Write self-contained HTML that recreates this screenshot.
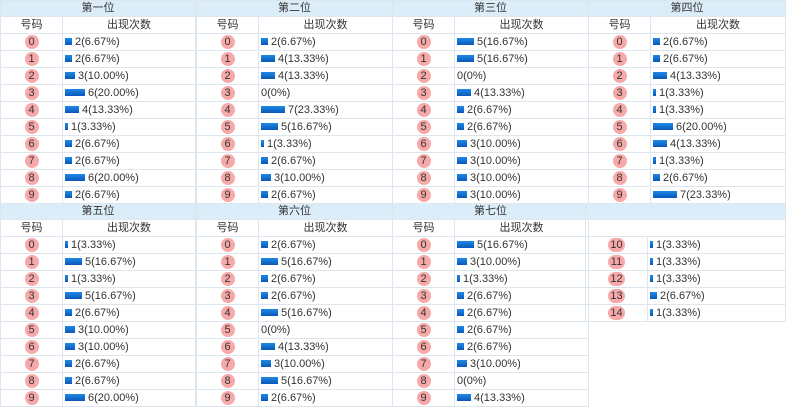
<!DOCTYPE html>
<html><head><meta charset="utf-8"><style>
*{margin:0;padding:0;box-sizing:border-box}
body{width:786px;height:410px;background:#fff;font-family:"Liberation Sans","Noto Sans CJK SC",sans-serif;font-size:11px;color:#333;position:relative;overflow:hidden}
table{position:absolute;border-collapse:collapse;table-layout:fixed}
td{border:1px solid #dde5ee;height:17px;padding:0;white-space:nowrap;line-height:15px;overflow:hidden}
tr.h td{background:#dcedfa;height:16px;text-align:center}
tr.s td{text-align:center}
td.n{text-align:center}
i{display:inline-block;font-style:normal;width:14px;height:14px;border-radius:7px;background:#f7a9a9;line-height:14px;text-align:center;vertical-align:middle}
i.w{width:17px;border-radius:8px}
b{display:inline-block;height:7px;background:linear-gradient(#1e8ae6,#0a57b8);vertical-align:middle;margin:0 3px 0 2px}
b.z{width:0;margin-left:2px;margin-right:0}
.w1{width:3px}.w2{width:7px}.w3{width:10px}.w4{width:14px}.w5{width:17px}.w6{width:20px}.w7{width:24px}
</style></head><body>

<table style="left:0;top:0;width:196px"><colgroup><col style="width:62px"><col></colgroup><tr class="h"><td colspan="2">第一位</td></tr><tr class="s"><td class="n">号码</td><td>出现次数</td></tr>
<tr><td class="n"><i>0</i></td><td><b class="w2"></b>2(6.67%)</td></tr>
<tr><td class="n"><i>1</i></td><td><b class="w2"></b>2(6.67%)</td></tr>
<tr><td class="n"><i>2</i></td><td><b class="w3"></b>3(10.00%)</td></tr>
<tr><td class="n"><i>3</i></td><td><b class="w6"></b>6(20.00%)</td></tr>
<tr><td class="n"><i>4</i></td><td><b class="w4"></b>4(13.33%)</td></tr>
<tr><td class="n"><i>5</i></td><td><b class="w1"></b>1(3.33%)</td></tr>
<tr><td class="n"><i>6</i></td><td><b class="w2"></b>2(6.67%)</td></tr>
<tr><td class="n"><i>7</i></td><td><b class="w2"></b>2(6.67%)</td></tr>
<tr><td class="n"><i>8</i></td><td><b class="w6"></b>6(20.00%)</td></tr>
<tr><td class="n"><i>9</i></td><td><b class="w2"></b>2(6.67%)</td></tr></table>

<table style="left:196px;top:0;width:197px"><colgroup><col style="width:62px"><col></colgroup><tr class="h"><td colspan="2">第二位</td></tr><tr class="s"><td class="n">号码</td><td>出现次数</td></tr>
<tr><td class="n"><i>0</i></td><td><b class="w2"></b>2(6.67%)</td></tr>
<tr><td class="n"><i>1</i></td><td><b class="w4"></b>4(13.33%)</td></tr>
<tr><td class="n"><i>2</i></td><td><b class="w4"></b>4(13.33%)</td></tr>
<tr><td class="n"><i>3</i></td><td><b class="z"></b>0(0%)</td></tr>
<tr><td class="n"><i>4</i></td><td><b class="w7"></b>7(23.33%)</td></tr>
<tr><td class="n"><i>5</i></td><td><b class="w5"></b>5(16.67%)</td></tr>
<tr><td class="n"><i>6</i></td><td><b class="w1"></b>1(3.33%)</td></tr>
<tr><td class="n"><i>7</i></td><td><b class="w2"></b>2(6.67%)</td></tr>
<tr><td class="n"><i>8</i></td><td><b class="w3"></b>3(10.00%)</td></tr>
<tr><td class="n"><i>9</i></td><td><b class="w2"></b>2(6.67%)</td></tr></table>

<table style="left:392px;top:0;width:197px"><colgroup><col style="width:62px"><col></colgroup><tr class="h"><td colspan="2">第三位</td></tr><tr class="s"><td class="n">号码</td><td>出现次数</td></tr>
<tr><td class="n"><i>0</i></td><td><b class="w5"></b>5(16.67%)</td></tr>
<tr><td class="n"><i>1</i></td><td><b class="w5"></b>5(16.67%)</td></tr>
<tr><td class="n"><i>2</i></td><td><b class="z"></b>0(0%)</td></tr>
<tr><td class="n"><i>3</i></td><td><b class="w4"></b>4(13.33%)</td></tr>
<tr><td class="n"><i>4</i></td><td><b class="w2"></b>2(6.67%)</td></tr>
<tr><td class="n"><i>5</i></td><td><b class="w2"></b>2(6.67%)</td></tr>
<tr><td class="n"><i>6</i></td><td><b class="w3"></b>3(10.00%)</td></tr>
<tr><td class="n"><i>7</i></td><td><b class="w3"></b>3(10.00%)</td></tr>
<tr><td class="n"><i>8</i></td><td><b class="w3"></b>3(10.00%)</td></tr>
<tr><td class="n"><i>9</i></td><td><b class="w3"></b>3(10.00%)</td></tr></table>

<table style="left:588px;top:0;width:198px"><colgroup><col style="width:62px"><col></colgroup><tr class="h"><td colspan="2">第四位</td></tr><tr class="s"><td class="n">号码</td><td>出现次数</td></tr>
<tr><td class="n"><i>0</i></td><td><b class="w2"></b>2(6.67%)</td></tr>
<tr><td class="n"><i>1</i></td><td><b class="w2"></b>2(6.67%)</td></tr>
<tr><td class="n"><i>2</i></td><td><b class="w4"></b>4(13.33%)</td></tr>
<tr><td class="n"><i>3</i></td><td><b class="w1"></b>1(3.33%)</td></tr>
<tr><td class="n"><i>4</i></td><td><b class="w1"></b>1(3.33%)</td></tr>
<tr><td class="n"><i>5</i></td><td><b class="w6"></b>6(20.00%)</td></tr>
<tr><td class="n"><i>6</i></td><td><b class="w4"></b>4(13.33%)</td></tr>
<tr><td class="n"><i>7</i></td><td><b class="w1"></b>1(3.33%)</td></tr>
<tr><td class="n"><i>8</i></td><td><b class="w2"></b>2(6.67%)</td></tr>
<tr><td class="n"><i>9</i></td><td><b class="w7"></b>7(23.33%)</td></tr></table>

<table style="left:0;top:203px;width:196px"><colgroup><col style="width:62px"><col></colgroup><tr class="h"><td colspan="2">第五位</td></tr><tr class="s"><td class="n">号码</td><td>出现次数</td></tr>
<tr><td class="n"><i>0</i></td><td><b class="w1"></b>1(3.33%)</td></tr>
<tr><td class="n"><i>1</i></td><td><b class="w5"></b>5(16.67%)</td></tr>
<tr><td class="n"><i>2</i></td><td><b class="w1"></b>1(3.33%)</td></tr>
<tr><td class="n"><i>3</i></td><td><b class="w5"></b>5(16.67%)</td></tr>
<tr><td class="n"><i>4</i></td><td><b class="w2"></b>2(6.67%)</td></tr>
<tr><td class="n"><i>5</i></td><td><b class="w3"></b>3(10.00%)</td></tr>
<tr><td class="n"><i>6</i></td><td><b class="w3"></b>3(10.00%)</td></tr>
<tr><td class="n"><i>7</i></td><td><b class="w2"></b>2(6.67%)</td></tr>
<tr><td class="n"><i>8</i></td><td><b class="w2"></b>2(6.67%)</td></tr>
<tr><td class="n"><i>9</i></td><td><b class="w6"></b>6(20.00%)</td></tr></table>

<table style="left:196px;top:203px;width:197px"><colgroup><col style="width:62px"><col></colgroup><tr class="h"><td colspan="2">第六位</td></tr><tr class="s"><td class="n">号码</td><td>出现次数</td></tr>
<tr><td class="n"><i>0</i></td><td><b class="w2"></b>2(6.67%)</td></tr>
<tr><td class="n"><i>1</i></td><td><b class="w5"></b>5(16.67%)</td></tr>
<tr><td class="n"><i>2</i></td><td><b class="w2"></b>2(6.67%)</td></tr>
<tr><td class="n"><i>3</i></td><td><b class="w2"></b>2(6.67%)</td></tr>
<tr><td class="n"><i>4</i></td><td><b class="w5"></b>5(16.67%)</td></tr>
<tr><td class="n"><i>5</i></td><td><b class="z"></b>0(0%)</td></tr>
<tr><td class="n"><i>6</i></td><td><b class="w4"></b>4(13.33%)</td></tr>
<tr><td class="n"><i>7</i></td><td><b class="w3"></b>3(10.00%)</td></tr>
<tr><td class="n"><i>8</i></td><td><b class="w5"></b>5(16.67%)</td></tr>
<tr><td class="n"><i>9</i></td><td><b class="w2"></b>2(6.67%)</td></tr></table>

<table style="left:392px;top:203px;width:197px"><colgroup><col style="width:62px"><col></colgroup><tr class="h"><td colspan="2">第七位</td></tr><tr class="s"><td class="n">号码</td><td>出现次数</td></tr>
<tr><td class="n"><i>0</i></td><td><b class="w5"></b>5(16.67%)</td></tr>
<tr><td class="n"><i>1</i></td><td><b class="w3"></b>3(10.00%)</td></tr>
<tr><td class="n"><i>2</i></td><td><b class="w1"></b>1(3.33%)</td></tr>
<tr><td class="n"><i>3</i></td><td><b class="w2"></b>2(6.67%)</td></tr>
<tr><td class="n"><i>4</i></td><td><b class="w2"></b>2(6.67%)</td></tr>
<tr><td class="n"><i>5</i></td><td><b class="w2"></b>2(6.67%)</td></tr>
<tr><td class="n"><i>6</i></td><td><b class="w2"></b>2(6.67%)</td></tr>
<tr><td class="n"><i>7</i></td><td><b class="w3"></b>3(10.00%)</td></tr>
<tr><td class="n"><i>8</i></td><td><b class="z"></b>0(0%)</td></tr>
<tr><td class="n"><i>9</i></td><td><b class="w4"></b>4(13.33%)</td></tr></table>

<table style="left:585px;top:203px;width:201px"><colgroup><col style="width:62px"><col></colgroup><tr class="h"><td colspan="2">&nbsp;</td></tr><tr class="s"><td colspan="2">&nbsp;</td></tr>
<tr><td class="n"><i class="w">10</i></td><td><b class="w1"></b>1(3.33%)</td></tr>
<tr><td class="n"><i class="w">11</i></td><td><b class="w1"></b>1(3.33%)</td></tr>
<tr><td class="n"><i class="w">12</i></td><td><b class="w1"></b>1(3.33%)</td></tr>
<tr><td class="n"><i class="w">13</i></td><td><b class="w2"></b>2(6.67%)</td></tr>
<tr><td class="n"><i class="w">14</i></td><td><b class="w1"></b>1(3.33%)</td></tr></table>

</body></html>
